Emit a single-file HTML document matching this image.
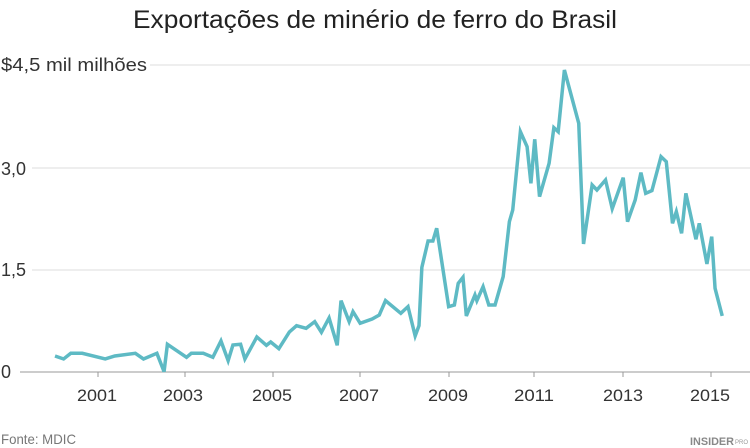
<!DOCTYPE html>
<html><head><meta charset="utf-8"><style>
html,body{margin:0;padding:0;background:#fff;width:750px;height:448px;overflow:hidden}
svg{display:block}
text{font-family:"Liberation Sans Narrow","Liberation Sans",sans-serif}
</style></head><body>
<svg width="750" height="448" viewBox="0 0 750 448" xmlns="http://www.w3.org/2000/svg">
<text x="375" y="28" text-anchor="middle" font-size="25" fill="#222" textLength="484" lengthAdjust="spacingAndGlyphs">Exportações de minério de ferro do Brasil</text>
<g stroke="#e8e8e8" stroke-width="1.5">
<line x1="150" y1="65" x2="750" y2="65"/>
<line x1="32" y1="168" x2="750" y2="168"/>
<line x1="32" y1="270" x2="750" y2="270"/>
</g>
<line x1="20" y1="372" x2="750" y2="372" stroke="#999" stroke-width="1"/>
<g stroke="#999" stroke-width="1">
<line x1="98" y1="372" x2="98" y2="377"/><line x1="185" y1="372" x2="185" y2="377"/>
<line x1="273" y1="372" x2="273" y2="377"/><line x1="360" y1="372" x2="360" y2="377"/>
<line x1="449" y1="372" x2="449" y2="377"/><line x1="534" y1="372" x2="534" y2="377"/>
<line x1="623" y1="372" x2="623" y2="377"/><line x1="711" y1="372" x2="711" y2="377"/>
</g>
<g font-size="18" fill="#333">
<text x="1" y="71" textLength="146" lengthAdjust="spacingAndGlyphs">$4,5 mil milhões</text>
<text x="1" y="175" textLength="25" lengthAdjust="spacingAndGlyphs">3,0</text>
<text x="1" y="276" textLength="25" lengthAdjust="spacingAndGlyphs">1,5</text>
<text x="1" y="378">0</text>
</g>
<g font-size="17" fill="#333" text-anchor="middle">
<text x="97" y="401" textLength="40" lengthAdjust="spacingAndGlyphs">2001</text>
<text x="183" y="401" textLength="40" lengthAdjust="spacingAndGlyphs">2003</text>
<text x="272" y="401" textLength="40" lengthAdjust="spacingAndGlyphs">2005</text>
<text x="359" y="401" textLength="40" lengthAdjust="spacingAndGlyphs">2007</text>
<text x="448" y="401" textLength="40" lengthAdjust="spacingAndGlyphs">2009</text>
<text x="534" y="401" textLength="40" lengthAdjust="spacingAndGlyphs">2011</text>
<text x="623" y="401" textLength="40" lengthAdjust="spacingAndGlyphs">2013</text>
<text x="710" y="401" textLength="40" lengthAdjust="spacingAndGlyphs">2015</text>
</g>
<text x="1" y="444" font-size="14" fill="#777" textLength="75" lengthAdjust="spacingAndGlyphs">Fonte: MDIC</text>
<text x="690" y="445" font-size="11" fill="#888" font-family="Liberation Serif,serif" font-weight="bold" textLength="44" lengthAdjust="spacingAndGlyphs">INSIDER</text>
<text x="735" y="444" font-size="6" fill="#999" font-family="Liberation Serif,serif">PRO</text>
<g transform="translate(0,40) scale(0.4783,0.3333)">
<polyline fill="none" stroke="#5ebac4" stroke-width="3.5" vector-effect="non-scaling-stroke" stroke-linejoin="miter" points="115,948 133,957 148,940 172,940 220,957 240,948 283,940 300,957 328,940 343,995 350,913 390,952 400,940 425,940 445,952 462,903 477,962 487,915 503,913 512,957 537,891 557,916 566,906 583,926 605,876 620,857 640,865 658,845 672,877 688,834 705,916 713,782 730,845 738,815 753,850 778,837 793,825 806,782 838,820 853,800 868,888 876,857 882,682 895,603 905,603 913,565 938,800 950,795 958,730 968,712 975,828 993,765 997,782 1010,740 1022,795 1035,795 1052,710 1065,545 1072,510 1088,275 1102,320 1110,430 1118,298 1128,470 1148,370 1158,263 1167,275 1180,90 1210,250 1220,612 1238,435 1248,450 1266,420 1280,506 1303,413 1312,545 1328,480 1340,398 1350,460 1363,452 1382,350 1393,365 1406,550 1414,515 1425,580 1434,460 1455,598 1462,550 1478,672 1488,590 1495,745 1510,828"/>
</g>
</svg>
</body></html>
